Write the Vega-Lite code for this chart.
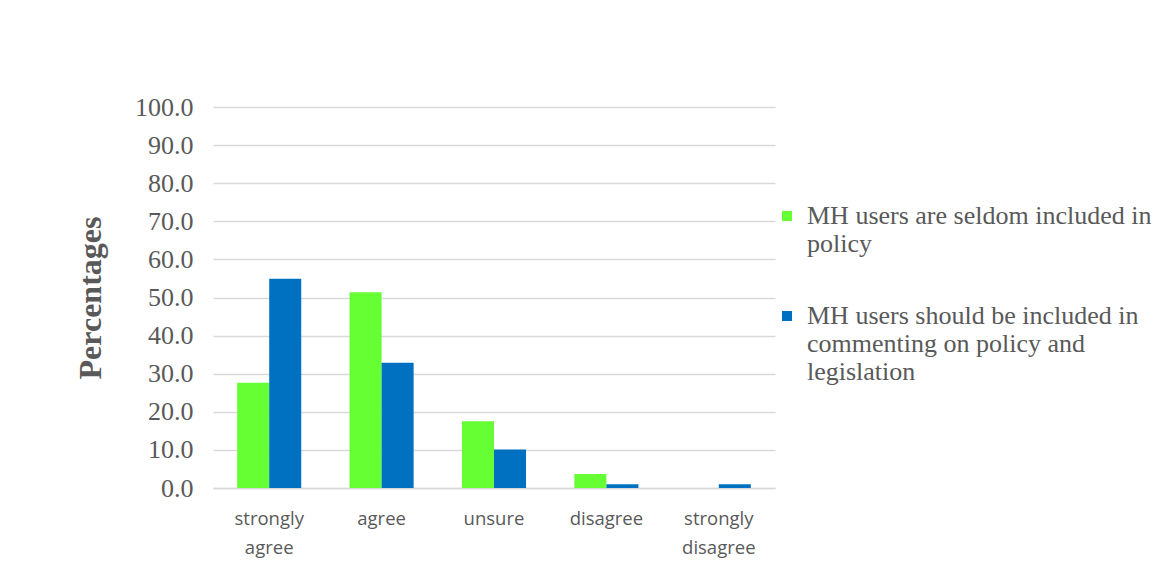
{
  "$schema": "https://vega.github.io/schema/vega-lite/v6.json",
  "width": 562,
  "height": 381,
  "autosize": "none",
  "padding": {"left": 213, "top": 107, "right": 401, "bottom": 83},
  "background": "white",
  "data": {
    "values": [
      {"response": "strongly agree", "series": "MH users are seldom included in policy", "pct": 27.6},
      {"response": "strongly agree", "series": "MH users should be included in commenting on policy and legislation", "pct": 54.9},
      {"response": "agree", "series": "MH users are seldom included in policy", "pct": 51.4},
      {"response": "agree", "series": "MH users should be included in commenting on policy and legislation", "pct": 32.9},
      {"response": "unsure", "series": "MH users are seldom included in policy", "pct": 17.5},
      {"response": "unsure", "series": "MH users should be included in commenting on policy and legislation", "pct": 10.1},
      {"response": "disagree", "series": "MH users are seldom included in policy", "pct": 3.7},
      {"response": "disagree", "series": "MH users should be included in commenting on policy and legislation", "pct": 1.0},
      {"response": "strongly disagree", "series": "MH users are seldom included in policy", "pct": 0.0},
      {"response": "strongly disagree", "series": "MH users should be included in commenting on policy and legislation", "pct": 1.0}
    ]
  },
  "mark": {"type": "bar"},
  "encoding": {
    "x": {
      "field": "response",
      "type": "nominal",
      "sort": ["strongly agree", "agree", "unsure", "disagree", "strongly disagree"],
      "scale": {"paddingInner": 0.43, "paddingOuter": 0.215},
      "axis": {
        "title": null,
        "labelAngle": 0,
        "labelExpr": "split(datum.label, ' ')",
        "labelFont": "Open Sans",
        "labelFontSize": 18.5,
        "labelColor": "#595959",
        "labelLineHeight": 29,
        "labelPadding": 21,
        "labelBaseline": "top",
        "ticks": false,
        "domainColor": "#d9d9d9",
        "domainWidth": 1.5
      }
    },
    "xOffset": {
      "field": "series",
      "type": "nominal",
      "sort": ["MH users are seldom included in policy", "MH users should be included in commenting on policy and legislation"]
    },
    "y": {
      "field": "pct",
      "type": "quantitative",
      "scale": {"domain": [0, 100]},
      "axis": {
        "title": "Percentages",
        "titleFont": "Liberation Serif",
        "titleFontSize": 32,
        "titleFontWeight": "bold",
        "titleColor": "#595959",
        "titlePadding": 27,
        "values": [0, 10, 20, 30, 40, 50, 60, 70, 80, 90, 100],
        "format": ".1f",
        "labelFont": "Liberation Serif",
        "labelFontSize": 26,
        "labelColor": "#595959",
        "labelPadding": 20,
        "ticks": false,
        "domain": false,
        "grid": true,
        "gridColor": "#d9d9d9",
        "gridWidth": 1.5
      }
    },
    "color": {
      "field": "series",
      "type": "nominal",
      "sort": ["MH users are seldom included in policy", "MH users should be included in commenting on policy and legislation"],
      "scale": {"range": ["#66FF33", "#0070C0"]},
      "legend": {
        "title": null,
        "orient": "none",
        "legendX": 561,
        "legendY": 96,
        "symbolType": "square",
        "symbolSize": 100,
        "symbolStrokeWidth": 0,
        "labelFont": "Liberation Serif",
        "labelFontSize": 26,
        "labelColor": "#595959",
        "labelLineHeight": 31,
        "labelLimit": 420,
        "labelOffset": 7,
        "rowPadding": 46,
        "labelExpr": "datum.label == 'MH users are seldom included in policy' ? ['MH users are seldom included in', 'policy'] : ['MH users should be included in', 'commenting on policy and', 'legislation']"
      }
    }
  },
  "config": {
    "view": {"stroke": null}
  }
}
